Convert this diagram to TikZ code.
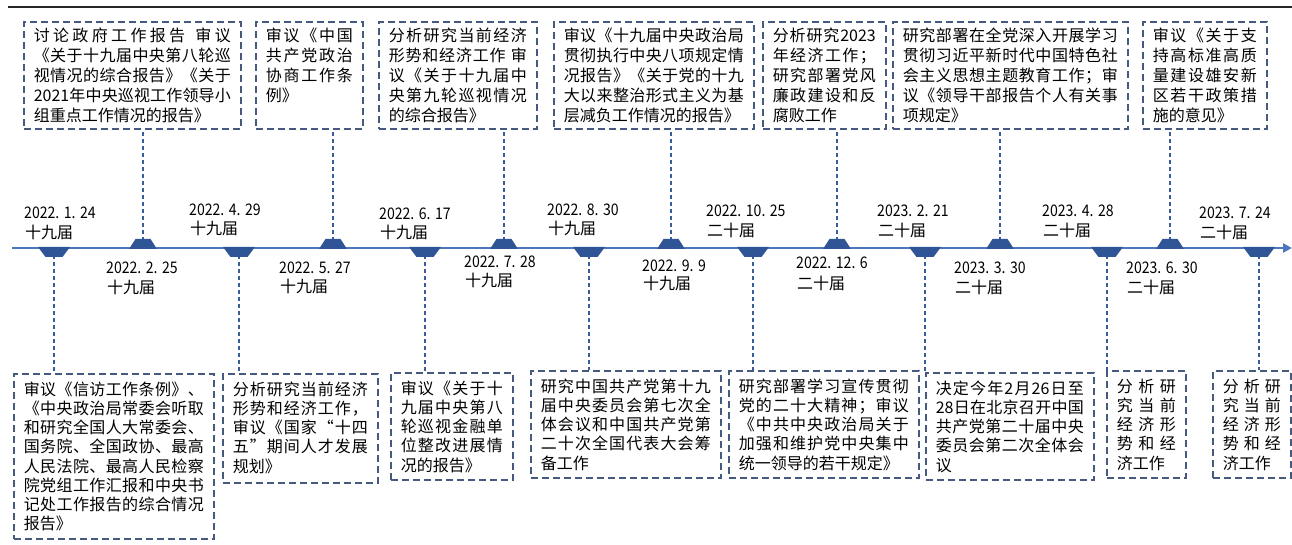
\documentclass[tikz,border=0pt]{standalone}
\usepackage{fontspec}
\setmainfont{Noto Sans CJK SC}
\newfontfamily\datefont[FakeStretch=0.88]{Noto Sans CJK SC}
\usetikzlibrary{arrows.meta,backgrounds}
\definecolor{boxc}{HTML}{465A80}
\definecolor{connc}{HTML}{3A5C9A}
\definecolor{mkc}{HTML}{2F5597}
\definecolor{axisc}{HTML}{4A77BE}
\def\Jend{\Jend}
\def\Jfirst#1{#1\Jloop}
\def\Jloop#1{\ifx\Jend#1\else\hfil#1\expandafter\Jloop\fi}
\newcommand\jl[1]{\hbox to \hsize{\Jfirst#1\Jend}}
\newcommand\lastl[1]{\hbox to \hsize{#1\hfil}}
\newcommand\bxt[5]{\parbox[c][#2][t]{#1}{\fontsize{16pt}{#4}\selectfont\vspace*{#3}#5}}
\newcommand\mkD[1]{\fill[mk] (#1) ++(-16,-1) -- ++(32,0) -- ++(-7.5,10) -- ++(-17,0) -- cycle;}
\newcommand\mkU[1]{\fill[mk] (#1) ++(-14,1) -- ++(28,0) -- ++(-6.5,-10) -- ++(-15,0) -- cycle;}
\newcommand\DT[3]{#1.\kern4.5pt#2.\kern4.5pt#3}
\tikzset{
  box/.style={draw=boxc, line width=1.6pt, dash pattern=on 7pt off 4pt, inner xsep=10pt, inner ysep=0pt, anchor=north west},
  conn/.style={draw=connc, line width=1.2pt, dash pattern=on 4pt off 3pt},
  mk/.style={fill=mkc},
  axisline/.style={draw=axisc, line width=2.6pt, -{Triangle[length=9pt,width=9pt]}},
  dt/.style={anchor=base west, inner sep=0pt, font=\datefont\fontsize{16pt}{20pt}\selectfont},
  ss/.style={anchor=base west, inner sep=0pt, font=\fontsize{16pt}{20pt}\selectfont},
  toprule/.style={draw=black!85, line width=1.6pt}
}
\begin{document}
\begin{tikzpicture}[x=1pt,y=-1pt]
\useasboundingbox (0,0) rectangle (1292,545);
% top rule
\coordinate (rL) at (8,7);
\coordinate (rR) at (1292,7);
\draw[toprule] (rL) -- (rR);
% axis
\coordinate (aL) at (12,248);
\coordinate (aR) at (1292,248);
\draw[axisline] (aL) -- (aR);

% top boxes
\node[box] (t1) at (23,21) {\bxt{197pt}{107pt}{6pt}{20pt}{\jl{讨论政府工作报告~审议}\jl{《关于十九届中央第八轮巡}\jl{视情况的综合报告》《关于}\jl{{2021}年中央巡视工作领导小}\lastl{组重点工作情况的报告》}}};
\node[box] (t2) at (255,21) {\bxt{87pt}{107pt}{6pt}{20pt}{\jl{审议《中国}\jl{共产党政治}\jl{协商工作条}\lastl{例》}}};
\node[box] (t3) at (378,21) {\bxt{138pt}{107pt}{6pt}{20pt}{\jl{分析研究当前经济}\jl{形势和经济工作~审}\jl{议《关于十九届中}\jl{央第九轮巡视情况}\lastl{的综合报告》}}};
\node[box] (t4) at (553,21) {\bxt{180pt}{107pt}{6pt}{20pt}{\jl{审议《十九届中央政治局}\jl{贯彻执行中央八项规定情}\jl{况报告》《关于党的十九}\jl{大以来整治形式主义为基}\lastl{层减负工作情况的报告》}}};
\node[box] (t5) at (762,21) {\bxt{103pt}{107pt}{6pt}{20pt}{\jl{分析研究{2023}}\jl{年经济工作；}\jl{研究部署党风}\jl{廉政建设和反}\lastl{腐败工作}}};
\node[box] (t6) at (892,21) {\bxt{215pt}{107pt}{6pt}{20pt}{\jl{研究部署在全党深入开展学习}\jl{贯彻习近平新时代中国特色社}\jl{会主义思想主题教育工作；审}\jl{议《领导干部报告个人有关事}\lastl{项规定》}}};
\node[box] (t7) at (1142,21) {\bxt{104pt}{107pt}{6pt}{20pt}{\jl{审议《关于支}\jl{持高标准高质}\jl{量建设雄安新}\jl{区若干政策措}\lastl{施的意见》}}};

% bottom boxes
\node[box] (b1) at (13,373) {\bxt{180pt}{165pt}{8pt}{19.2pt}{\jl{审议《信访工作条例》、}\jl{《中央政治局常委会听取}\jl{和研究全国人大常委会、}\jl{国务院、全国政协、最高}\jl{人民法院、最高人民检察}\jl{院党组工作汇报和中央书}\jl{记处工作报告的综合情况}\lastl{报告》}}};
\node[box] (b2) at (222,373) {\bxt{135pt}{109pt}{8pt}{19.2pt}{\jl{分析研究当前经济}\jl{形势和经济工作，}\jl{审议《国家“十四}\jl{五”期间人才发展}\lastl{规划》}}};
\node[box] (b3) at (390,372) {\bxt{102pt}{107pt}{8pt}{19.2pt}{\jl{审议《关于十}\jl{九届中央第八}\jl{轮巡视金融单}\jl{位整改进展情}\lastl{况的报告》}}};
\node[box] (b4) at (530,370) {\bxt{170pt}{107pt}{8pt}{19.2pt}{\jl{研究中国共产党第十九}\jl{届中央委员会第七次全}\jl{体会议和中国共产党第}\jl{二十次全国代表大会筹}\lastl{备工作}}};
\node[box] (b5) at (728,370) {\bxt{170pt}{107pt}{8pt}{19.2pt}{\jl{研究部署学习宣传贯彻}\jl{党的二十大精神；审议}\jl{《中共中央政治局关于}\jl{加强和维护党中央集中}\lastl{统一领导的若干规定》}}};
\node[box] (b6) at (925,372) {\bxt{148pt}{107pt}{8pt}{19.2pt}{\jl{决定今年2月{26}日至}\jl{{28}日在北京召开中国}\jl{共产党第二十届中央}\jl{委员会第二次全体会}\lastl{议}}};
\node[box] (b7) at (1106,370) {\bxt{59pt}{107pt}{8pt}{19.2pt}{\jl{分析研}\jl{究当前}\jl{经济形}\jl{势和经}\lastl{济工作}}};
\node[box] (b8) at (1212,370) {\bxt{58pt}{107pt}{8pt}{19.2pt}{\jl{分析研}\jl{究当前}\jl{经济形}\jl{势和经}\lastl{济工作}}};

% marker points on the axis
\coordinate (m1) at (54,248);
\coordinate (m2) at (143,248);
\coordinate (m3) at (239,248);
\coordinate (m4) at (333,248);
\coordinate (m5) at (425,248);
\coordinate (m6) at (504,248);
\coordinate (m7) at (589,248);
\coordinate (m8) at (671,248);
\coordinate (m9) at (753,248);
\coordinate (m10) at (837,248);
\coordinate (m11) at (925,248);
\coordinate (m12) at (1000,248);
\coordinate (m13) at (1107,248);
\coordinate (m14) at (1170,248);
\coordinate (m15) at (1259,248);
\mkD{m1}\mkU{m2}\mkD{m3}\mkU{m4}\mkD{m5}\mkU{m6}\mkD{m7}\mkU{m8}
\mkD{m9}\mkU{m10}\mkD{m11}\mkU{m12}\mkD{m13}\mkU{m14}\mkD{m15}

% connectors
\begin{scope}[on background layer]
\draw[conn] (m1) -- (m1 |- b1.north);
\draw[conn] (m2) -- (m2 |- t1.south);
\draw[conn] (m3) -- (m3 |- b2.north);
\draw[conn] (m4) -- (m4 |- t2.south);
\draw[conn] (m5) -- (m5 |- b3.north);
\draw[conn] (m6) -- (m6 |- t3.south);
\draw[conn] (m7) -- (m7 |- b4.north);
\draw[conn] (m8) -- (m8 |- t4.south);
\draw[conn] (m9) -- (m9 |- b5.north);
\draw[conn] (m10) -- (m10 |- t5.south);
\draw[conn] (m11) -- (m11 |- b6.north);
\draw[conn] (m12) -- (m12 |- t6.south);
\draw[conn] (m13) -- (m13 |- b7.north);
\draw[conn] (m14) -- (m14 |- t7.south);
\draw[conn] (m15) -- (m15 |- b8.north);
\end{scope}

% date labels
\node[dt] (d1) at (24,219) {\DT{2022}{1}{24}};   \node[ss] (s1) at (25,239) {十九届};
\node[dt] (d2) at (106,273) {\DT{2022}{2}{25}};  \node[ss] (s2) at (107,293) {十九届};
\node[dt] (d3) at (189,216) {\DT{2022}{4}{29}};  \node[ss] (s3) at (190,235) {十九届};
\node[dt] (d4) at (279,273) {\DT{2022}{5}{27}};  \node[ss] (s4) at (280,292) {十九届};
\node[dt] (d5) at (379,220) {\DT{2022}{6}{17}};  \node[ss] (s5) at (380,239) {十九届};
\node[dt] (d6) at (464,268) {\DT{2022}{7}{28}};  \node[ss] (s6) at (465,287) {十九届};
\node[dt] (d7) at (547,216) {\DT{2022}{8}{30}};  \node[ss] (s7) at (548,235) {十九届};
\node[dt] (d8) at (642,271) {\DT{2022}{9}{9}};   \node[ss] (s8) at (643,289) {十九届};
\node[dt] (d9) at (706,217) {\DT{2022}{10}{25}}; \node[ss] (s9) at (707,237) {二十届};
\node[dt] (d10) at (796,269) {\DT{2022}{12}{6}}; \node[ss] (s10) at (797,289) {二十届};
\node[dt] (d11) at (877,217) {\DT{2023}{2}{21}}; \node[ss] (s11) at (878,237) {二十届};
\node[dt] (d12) at (954,273) {\DT{2023}{3}{30}}; \node[ss] (s12) at (955,293) {二十届};
\node[dt] (d13) at (1042,217) {\DT{2023}{4}{28}}; \node[ss] (s13) at (1043,237) {二十届};
\node[dt] (d14) at (1126,273) {\DT{2023}{6}{30}}; \node[ss] (s14) at (1127,293) {二十届};
\node[dt] (d15) at (1199,219) {\DT{2023}{7}{24}}; \node[ss] (s15) at (1200,239) {二十届};
\end{tikzpicture}
\end{document}
